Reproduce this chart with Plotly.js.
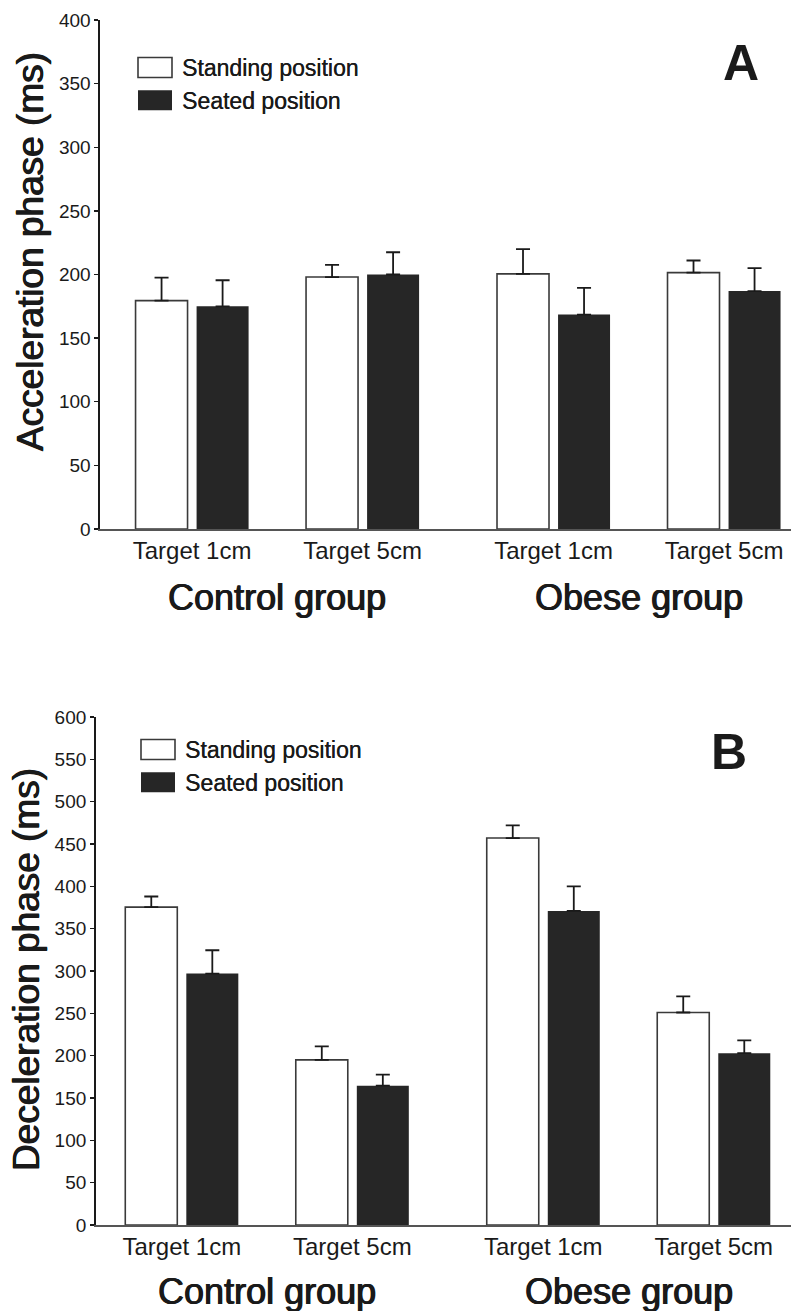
<!DOCTYPE html>
<html>
<head>
<meta charset="utf-8">
<script src="https://cdn.plot.ly/plotly-3.0.1.min.js"></script>
<style>
  html, body { margin: 0; padding: 0; background: #ffffff; }
  #chart { width: 791px; height: 1311px; }
</style>
</head>
<body>
<div id="chart"></div>
<script>
// ---------- data ----------
const categories = ['Target 1cm', 'Target 5cm', 'Target 1cm', 'Target 5cm'];
const categoryGroup = [0, 0, 1, 1];
const groups = ['Control group', 'Obese group'];
const seriesNames = ['Standing position', 'Seated position'];

// Panel A: acceleration phase (ms)
const accStanding = [179.5, 198, 200.5, 201.5];
const accStandingErr = [18, 9.5, 19.5, 9.5];
const accSeated = [175, 200, 168.5, 187];
const accSeatedErr = [20.5, 17.5, 21, 18];

// Panel B: deceleration phase (ms)
const decStanding = [375.5, 195, 457, 251];
const decStandingErr = [12.5, 16, 15, 19];
const decSeated = [297, 164.5, 371, 203];
const decSeatedErr = [27.5, 13, 29, 15];

// ---------- layout helpers ----------
const W = 791, H = 1311;
const unitPx = 170.5;            // px per category step
const groupExtra = 0.12;         // extra space between groups
const firstPos = 0.54;
const pos = categories.map((c, i) => firstPos + (i - categoryGroup[i] * 2) + categoryGroup[i] * (2 + groupExtra));
const groupCenter = groups.map((g, gi) => {
  const p = pos.filter((_, i) => categoryGroup[i] === gi);
  return p.reduce((a, b) => a + b, 0) / p.length;
});
const py = v => 1 - v / H;
const zeros = arr => arr.map(() => 0);

const FONT = 'Liberation Sans, Arial, sans-serif';
const INK = '#1a1a1a';
const HEAVY = '0.6px 0px 0px #1a1a1a, -0.6px 0px 0px #1a1a1a';

function makeTraces(standing, standingErr, seated, seatedErr, xa, ya, legendId) {
  return [
    {
      type: 'bar', name: seriesNames[0], x: pos, y: standing,
      xaxis: xa, yaxis: ya, legend: legendId, showlegend: true,
      marker: { color: '#ffffff', line: { color: '#3a3a3a', width: 1.6 } },
      error_y: { type: 'data', symmetric: false, array: standingErr, arrayminus: zeros(standingErr),
                 color: INK, thickness: 1.8, width: 7 },
      hoverinfo: 'skip'
    },
    {
      type: 'bar', name: seriesNames[1], x: pos, y: seated,
      xaxis: xa, yaxis: ya, legend: legendId, showlegend: true,
      marker: { color: '#262626', line: { color: '#262626', width: 0 } },
      error_y: { type: 'data', symmetric: false, array: seatedErr, arrayminus: zeros(seatedErr),
                 color: INK, thickness: 1.8, width: 7 },
      hoverinfo: 'skip'
    }
  ];
}

const data = [
  ...makeTraces(accStanding, accStandingErr, accSeated, accSeatedErr, 'x', 'y', 'legend'),
  ...makeTraces(decStanding, decStandingErr, decSeated, decSeatedErr, 'x2', 'y2', 'legend2')
];

function yAxis(top, bottom, maxV, anchor) {
  return {
    domain: [py(bottom), py(top)], range: [0, maxV], dtick: 50, tick0: 0,
    anchor: anchor, showline: true, linecolor: INK, linewidth: 1.6,
    ticks: 'outside', ticklen: 4, tickwidth: 1.3, tickcolor: INK,
    showgrid: false, zeroline: false,
    tickfont: { family: FONT, size: 19, color: INK }
  };
}
function xAxis(leftPx, startVal, anchor) {
  return {
    domain: [leftPx / W, 1], range: [startVal, startVal + (W - leftPx) / unitPx],
    anchor: anchor, showline: true, linecolor: '#555555', linewidth: 1.6,
    ticks: '', tickmode: 'array', tickvals: pos, ticktext: categories,
    showgrid: false, zeroline: false,
    tickfont: { family: FONT, size: 24, color: INK }
  };
}

function ann(text, xref, x, y, size, weight, angle, shadow) {
  const font = { family: FONT, size: size, color: INK, weight: weight };
  if (shadow) font.shadow = shadow;
  return { text: text, xref: xref, yref: 'paper', x: x, y: y, textangle: angle || 0,
           showarrow: false, xanchor: 'center', yanchor: 'middle', font: font };
}

function legendCfg(xPx, topPx) {
  return {
    x: xPx / W, xanchor: 'left', y: py(topPx), yanchor: 'top',
    bgcolor: 'rgba(0,0,0,0)', borderwidth: 0, itemwidth: 44,
    font: { family: FONT, size: 23, color: INK, shadow: '0.3px 0px 0px #1a1a1a' }, tracegroupgap: 0
  };
}

const layout = {
  width: W, height: H,
  margin: { l: 0, r: 0, t: 0, b: 0 },
  paper_bgcolor: '#ffffff', plot_bgcolor: 'rgba(0,0,0,0)',
  barmode: 'group', bargap: 0.284, bargroupgap: 0.148,
  xaxis: xAxis(100, 0, 'y'),
  yaxis: yAxis(20, 529, 400, 'x'),
  xaxis2: xAxis(95.7, 0.035, 'y2'),
  yaxis2: yAxis(717, 1225, 600, 'x2'),
  legend: legendCfg(128, 46),
  legend2: legendCfg(131, 728),
  annotations: [
    ann('Acceleration phase (ms)', 'paper', 30 / W, py(252), 37, 'normal', -90, HEAVY),
    ann('Deceleration phase (ms)', 'paper', 27 / W, py(970), 37, 'normal', -90, HEAVY),
    ann(groups[0], 'x', groupCenter[0], py(597), 36, 'normal', 0, HEAVY),
    ann(groups[1], 'x', groupCenter[1], py(597), 36, 'normal', 0, HEAVY),
    ann(groups[0], 'x2', groupCenter[0], py(1291), 36, 'normal', 0, HEAVY),
    ann(groups[1], 'x2', groupCenter[1], py(1291), 36, 'normal', 0, HEAVY),
    ann('A', 'paper', 741 / W, py(63), 50, 'bold'),
    ann('B', 'paper', 729 / W, py(752), 50, 'bold')
  ]
};

Plotly.newPlot('chart', data, layout, { staticPlot: true, displayModeBar: false }).then(gd => {
  // enlarge legend swatches to match the reference's wide boxes
  try {
    gd.querySelectorAll('.legendpoints path').forEach(p => {
      p.setAttribute('d', 'M17,10H-17V-10H17Z');
    });
  } catch (e) {}
});
</script>
</body>
</html>
